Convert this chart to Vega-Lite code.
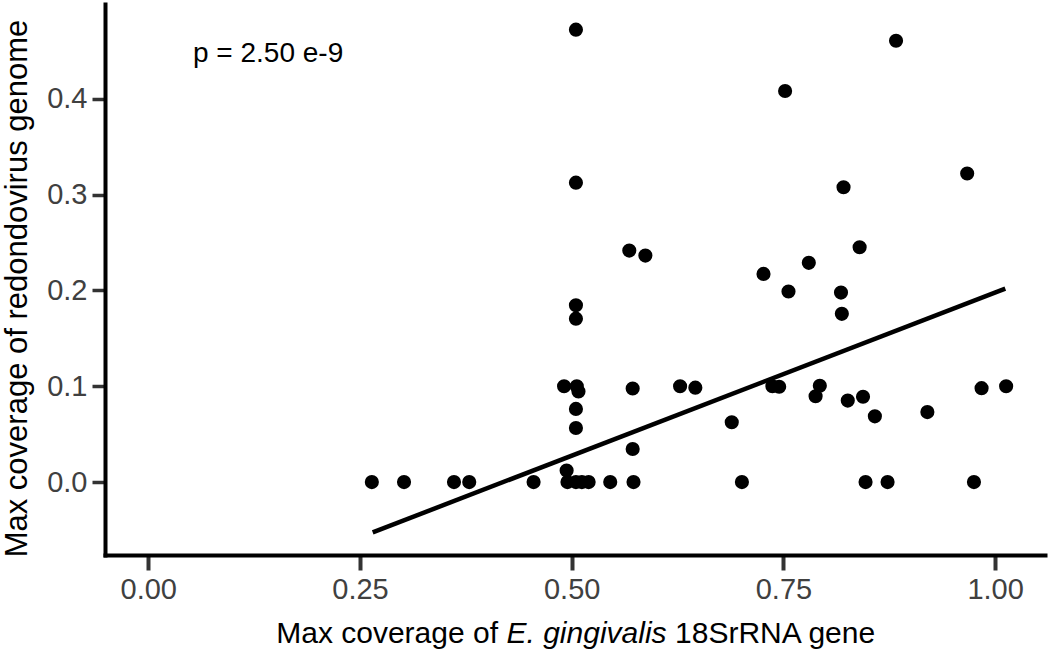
{
  "$schema": "https://vega.github.io/schema/vega-lite/v6.json",
  "width": 940,
  "height": 551,
  "autosize": {"type": "none"},
  "padding": {"left": 105, "top": 4, "right": 5, "bottom": 96},
  "background": "white",
  "config": {"view": {"stroke": null}, "font": "Liberation Sans"},
  "datasets": {
    "points": [
      {"x": 0.264, "y": 0}, {"x": 0.302, "y": 0}, {"x": 0.361, "y": 0}, {"x": 0.379, "y": 0},
      {"x": 0.455, "y": 0}, {"x": 0.495, "y": 0}, {"x": 0.505, "y": 0}, {"x": 0.512, "y": 0},
      {"x": 0.52, "y": 0}, {"x": 0.5455, "y": 0}, {"x": 0.573, "y": 0}, {"x": 0.701, "y": 0},
      {"x": 0.847, "y": 0}, {"x": 0.873, "y": 0}, {"x": 0.975, "y": 0},
      {"x": 0.494, "y": 0.012}, {"x": 0.572, "y": 0.0345},
      {"x": 0.505, "y": 0.0564}, {"x": 0.505, "y": 0.0763},
      {"x": 0.689, "y": 0.0624}, {"x": 0.858, "y": 0.0686}, {"x": 0.92, "y": 0.073},
      {"x": 0.826, "y": 0.085}, {"x": 0.844, "y": 0.089}, {"x": 0.788, "y": 0.0895},
      {"x": 0.491, "y": 0.1}, {"x": 0.506, "y": 0.1}, {"x": 0.508, "y": 0.0945},
      {"x": 0.572, "y": 0.0976}, {"x": 0.628, "y": 0.1}, {"x": 0.646, "y": 0.0985},
      {"x": 0.737, "y": 0.1}, {"x": 0.745, "y": 0.0995}, {"x": 0.793, "y": 0.1004},
      {"x": 0.984, "y": 0.098}, {"x": 1.013, "y": 0.1},
      {"x": 0.505, "y": 0.1705}, {"x": 0.505, "y": 0.1845},
      {"x": 0.819, "y": 0.1755}, {"x": 0.818, "y": 0.1977}, {"x": 0.756, "y": 0.1988},
      {"x": 0.7265, "y": 0.2172}, {"x": 0.78, "y": 0.2287},
      {"x": 0.568, "y": 0.2415}, {"x": 0.587, "y": 0.2363}, {"x": 0.84, "y": 0.245},
      {"x": 0.505, "y": 0.3124}, {"x": 0.821, "y": 0.3076}, {"x": 0.967, "y": 0.322},
      {"x": 0.752, "y": 0.408}, {"x": 0.883, "y": 0.4605}, {"x": 0.505, "y": 0.472}
    ],
    "fit": [
      {"x": 0.265, "y": -0.0525},
      {"x": 1.012, "y": 0.2019}
    ]
  },
  "layer": [
    {
      "data": {"name": "points"},
      "mark": {"type": "circle", "size": 200, "color": "black", "opacity": 1},
      "encoding": {
        "x": {
          "field": "x", "type": "quantitative",
          "scale": {"domain": [-0.0511, 1.0589], "nice": false, "zero": false},
          "axis": {
            "title": null, "grid": false,
            "values": [0, 0.25, 0.5, 0.75, 1], "format": ".2f",
            "labelFontSize": 29, "labelColor": "#404040", "labelPadding": 5,
            "tickColor": "#333333", "tickWidth": 4, "tickSize": 15,
            "domainColor": "black", "domainWidth": 4, "domainCap": "square"
          }
        },
        "y": {
          "field": "y", "type": "quantitative",
          "scale": {"domain": [-0.0761, 0.4988], "nice": false, "zero": false},
          "axis": {
            "title": "Max coverage of redondovirus genome",
            "titleFontSize": 31, "titleFontWeight": "normal", "titleColor": "black",
            "titleX": -79, "titleY": 284, "titleAngle": 270,
            "titleBaseline": "alphabetic", "titleAlign": "center",
            "grid": false,
            "values": [0, 0.1, 0.2, 0.3, 0.4], "format": ".1f",
            "labelFontSize": 29, "labelColor": "#404040", "labelPadding": 5,
            "tickColor": "#333333", "tickWidth": 3.5, "tickSize": 13,
            "domainColor": "black", "domainWidth": 4, "domainCap": "square"
          }
        }
      }
    },
    {
      "data": {"name": "fit"},
      "mark": {"type": "line", "color": "black", "strokeWidth": 4.5},
      "encoding": {
        "x": {"field": "x", "type": "quantitative"},
        "y": {"field": "y", "type": "quantitative"}
      }
    },
    {
      "data": {"values": [{}]},
      "mark": {"type": "text", "fontSize": 28, "color": "black", "align": "left", "baseline": "alphabetic"},
      "encoding": {
        "x": {"datum": 0.0528},
        "y": {"datum": 0.4386},
        "text": {"value": "p = 2.50 e-9"}
      }
    },
    {
      "data": {"values": [{}]},
      "mark": {"type": "text", "fontSize": 30, "color": "black", "align": "right", "baseline": "alphabetic"},
      "encoding": {
        "x": {"datum": 0.413},
        "y": {"datum": -0.1676},
        "text": {"value": "Max coverage of"}
      }
    },
    {
      "data": {"values": [{}]},
      "mark": {"type": "text", "fontSize": 30, "color": "black", "align": "center", "baseline": "alphabetic", "fontStyle": "italic"},
      "encoding": {
        "x": {"datum": 0.5175},
        "y": {"datum": -0.1676},
        "text": {"value": "E. gingivalis"}
      }
    },
    {
      "data": {"values": [{}]},
      "mark": {"type": "text", "fontSize": 30, "color": "black", "align": "left", "baseline": "alphabetic"},
      "encoding": {
        "x": {"datum": 0.622},
        "y": {"datum": -0.1676},
        "text": {"value": "18SrRNA gene"}
      }
    }
  ]
}
